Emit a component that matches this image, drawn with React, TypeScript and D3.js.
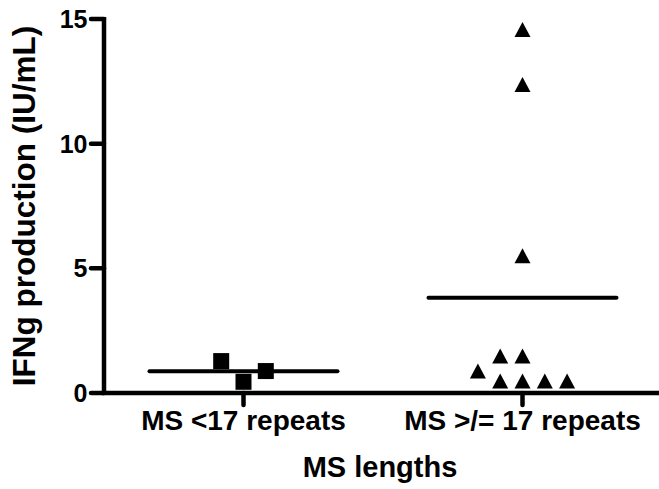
import React from 'react'
import * as d3 from 'd3'

const categories = ['MS <17 repeats', 'MS >/= 17 repeats']
const shortRepeats = [1.28, 0.45, 0.88]
const shortSlots = [-1, 0, 1]
const longRepeats = [14.58, 12.37, 5.5, 1.48, 1.48, 0.88, 0.48, 0.48, 0.48, 0.48]
const longSlots = [0, 0, 0, -1, 0, -2, -1, 0, 1, 2]
const yTicks = [0, 5, 10, 15]

const W = 659
const H = 489
const FONT = '"Liberation Sans", Arial, sans-serif'

const App = () => {
  const x = d3.scalePoint<string>().domain(categories).range([104, 662]).padding(0.5)
  const y = d3.scaleLinear().domain([0, 15]).range([393, 19])
  const slot = d3.scaleLinear().domain([0, 1]).range([0, 22.3])

  const groups = [
    { cat: categories[0], values: shortRepeats, slots: shortSlots, shape: 'square' },
    { cat: categories[1], values: longRepeats, slots: longSlots, shape: 'triangle' },
  ]

  const marker = (shape: string, cx: number, cy: number, key: string) => {
    if (shape === 'square') {
      return <rect key={key} x={cx - 8} y={cy - 8} width={16} height={16} fill="#000" />
    }
    const p = d3.path()
    p.moveTo(cx, cy - 7.5)
    p.lineTo(cx + 8, cy + 7.5)
    p.lineTo(cx - 8, cy + 7.5)
    p.closePath()
    return <path key={key} d={p.toString()} fill="#000" />
  }

  return (
    <svg width={W} height={H} style={{ position: 'absolute', left: 0, top: 0 }}>
      <rect width={W} height={H} fill="#fff" />
      {/* y axis */}
      <line x1={104} x2={104} y1={y(15) - 2} y2={y(0) + 2} stroke="#000" strokeWidth={4.5} />
      {yTicks.map(t => (
        <g key={t}>
          <line x1={91} x2={104} y1={y(t)} y2={y(t)} stroke="#000" strokeWidth={4.5} strokeLinecap="round" />
          <text x={87.5} y={y(t)} dy="0.36em" textAnchor="end" fontFamily={FONT} fontWeight="bold" fontSize={25}>
            {t}
          </text>
        </g>
      ))}
      {/* x axis */}
      <line x1={102} x2={W + 5} y1={y(0)} y2={y(0)} stroke="#000" strokeWidth={4.5} />
      {categories.map(c => (
        <g key={c}>
          <line x1={x(c)} x2={x(c)} y1={y(0)} y2={405} stroke="#000" strokeWidth={4.5} strokeLinecap="round" />
          <text x={x(c)} y={430} textAnchor="middle" fontFamily={FONT} fontWeight="bold" fontSize={28}>
            {c}
          </text>
        </g>
      ))}
      {/* means and points */}
      {groups.map(g => {
        const cx = x(g.cat) as number
        const m = d3.mean(g.values) as number
        return (
          <g key={g.cat}>
            <line x1={cx - 94} x2={cx + 94} y1={y(m)} y2={y(m)} stroke="#000" strokeWidth={4} strokeLinecap="round" />
            {g.values.map((v, i) => marker(g.shape, cx + slot(g.slots[i]), y(v), g.cat + i))}
          </g>
        )
      })}
      {/* titles */}
      <text x={380} y={477} textAnchor="middle" fontFamily={FONT} fontWeight="bold" fontSize={29}>
        MS lengths
      </text>
      <text
        transform={`translate(35,206) rotate(-90)`}
        textAnchor="middle"
        fontFamily={FONT}
        fontWeight="bold"
        fontSize={31.5}
      >
        IFNg production (IU/mL)
      </text>
    </svg>
  )
}

export default App
